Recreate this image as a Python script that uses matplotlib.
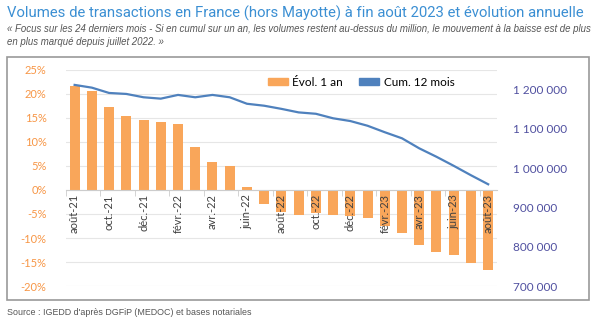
import matplotlib.pyplot as plt
from matplotlib.patches import Rectangle, Patch

# months from août-21 to août-23 (25 months)
months = ['août-21', 'sept.-21', 'oct.-21', 'nov.-21', 'déc.-21', 'janv.-22',
          'févr.-22', 'mars-22', 'avr.-22', 'mai-22', 'juin-22', 'juil.-22',
          'août-22', 'sept.-22', 'oct.-22', 'nov.-22', 'déc.-22', 'janv.-23',
          'févr.-23', 'mars-23', 'avr.-23', 'mai-23', 'juin-23', 'juil.-23',
          'août-23']

# annual change (%)
evol = [21.6, 20.7, 17.3, 15.5, 14.5, 14.1, 13.7, 9.0, 5.8, 5.0, 0.6, -3.0,
        -4.6, -5.3, -4.8, -5.3, -5.4, -5.9, -7.6, -8.9, -11.5, -12.9, -13.6,
        -15.3, -16.6]

# cumulative 12 months volume
cumul = [1212000, 1205000, 1191500, 1189000, 1180500, 1177000, 1186500,
         1180500, 1186500, 1180500, 1164000, 1159000, 1151000, 1142000,
         1138500, 1127000, 1120000, 1108000, 1091500, 1076000, 1050500,
         1029000, 1006000, 982000, 959000]

pct_ticks = [-20, -15, -10, -5, 0, 5, 10, 15, 20, 25]
vol_ticks = [700000, 800000, 900000, 1000000, 1100000, 1200000]

orange = '#F9A65A'
blue = '#4F81BD'

plt.rcParams['font.family'] = ['Lato', 'DejaVu Sans']

fig = plt.figure(figsize=(6, 3.21), dpi=100)

fig.text(0.012, 0.958, 'Volumes de transactions en France (hors Mayotte) à fin août 2023 et évolution annuelle',
         fontsize=10.7, color='#3B8FD3', family=['Roboto', 'DejaVu Sans'], va='center')
fig.text(0.012, 0.91, '« Focus sur les 24 derniers mois - Si en cumul sur un an, les volumes restent au-dessus du million, le mouvement à la baisse est de plus',
         fontsize=6.9, color='#555555', style='italic', family=['Liberation Sans', 'DejaVu Sans'], va='center')
fig.text(0.012, 0.87, 'en plus marqué depuis juillet 2022. »',
         fontsize=6.9, color='#555555', style='italic', family=['Liberation Sans', 'DejaVu Sans'], va='center')
fig.text(0.012, 0.028, 'Source : IGEDD d\'après DGFiP (MEDOC) et bases notariales',
         fontsize=6.4, color='#555555', family=['Liberation Sans', 'DejaVu Sans'], va='center')

# frame around chart
fig.patches.append(Rectangle((0.012, 0.066), 0.97, 0.756, transform=fig.transFigure,
                             fill=False, edgecolor='#999999', linewidth=1.2))

ax = fig.add_axes([0.11, 0.109, 0.718, 0.673])
x = list(range(len(months)))
for t in pct_ticks:
    ax.axhline(t, color='#e6e6e6', linewidth=0.8, zorder=0)
ax.bar(x, evol, width=0.58, color=orange, label='Évol. 1 an', zorder=1)
ax.set_axisbelow(False)
ax.set_xlim(-0.5, len(months) - 0.5)
ax.set_ylim(-20, 25)
ax.set_yticks(pct_ticks)
ax.set_yticklabels([f'{t}%' for t in pct_ticks], color='#F79646', fontsize=8)
ax.tick_params(axis='y', length=0, pad=14)

for s in ['top', 'right', 'left']:
    ax.spines[s].set_visible(False)
ax.spines['bottom'].set_position(('data', 0))
ax.spines['bottom'].set_color('#cccccc')
ax.set_xticks(x[::2])
ax.set_xticklabels(months[::2], rotation=90, fontsize=8, color='#404040')
ax.tick_params(axis='x', length=0, pad=3)
ax.set_xticks([i - 0.5 for i in range(0, len(months) + 1, 2)], minor=True)
ax.tick_params(axis='x', which='minor', length=4, color='#cccccc')

ax2 = ax.twinx()
ax2.plot(x, cumul, color=blue, linewidth=1.6, label='Cum. 12 mois', zorder=3)
ax2.set_ylim(700000, 1250000)
ax2.set_yticks(vol_ticks)
ax2.set_yticklabels([f'{t:,}'.replace(',', ' ') for t in vol_ticks], color='#5050A0', fontsize=8.5)
ax2.tick_params(axis='y', length=0, pad=12)
for s in ax2.spines.values():
    s.set_visible(False)

handles = [Patch(color=orange), Patch(color=blue)]
ax2.legend(handles, ['Évol. 1 an', 'Cum. 12 mois'], loc='center', bbox_to_anchor=(0.685, 0.944), ncol=2,
           frameon=False, fontsize=8.5, handlelength=1.7, handleheight=0.6, handletextpad=0.35,
           columnspacing=1.4, borderpad=0)

fig.savefig('out.png', dpi=100)
